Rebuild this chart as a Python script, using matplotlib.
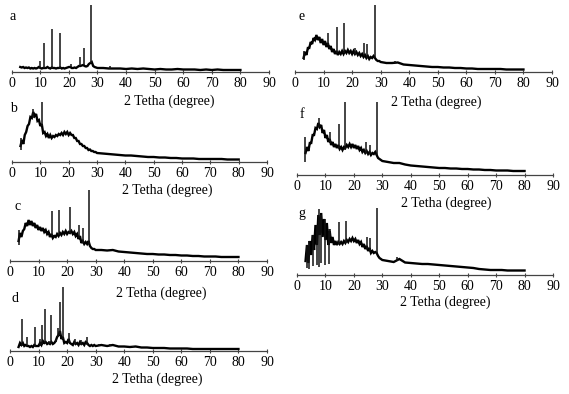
import numpy as np
import matplotlib
matplotlib.use('Agg')
import matplotlib.pyplot as plt

# tamaño de la figura en pixeles
W, H = 569, 394

# posiciones 2 theta del barrido (paso 0.5 hasta 30, luego paso 2)
two_theta = np.concatenate([np.arange(3, 30.5, 0.5), np.arange(32, 81, 2)])

# intensidades (unidades arbitrarias)
intens_a = [5, 4.5, 5, 4, 4.5, 4, 4.5, 3.5, 4, 3.5,
            4, 3.5, 4, 5, 4, 3.5, 4, 4, 4, 5,
            4, 3.5, 4.5, 4, 4, 3.5, 4, 4, 4.5, 3.5,
            4, 3.5, 4, 4.5, 5, 5, 4, 4, 4.5, 4,
            5, 6, 6, 6.5, 7, 6, 5.5, 6, 8, 9,
            10, 6, 5, 4.5, 4,
            4, 3.5, 3.5, 3.5, 3, 3.5, 3, 3.5, 3, 2.5, 3, 2.5, 2.5,
            3, 2.5, 2.5, 2.5, 2, 2.5, 2, 2.5, 2, 2, 2, 2]
intens_b = [16, 22, 18, 27, 30, 36, 38, 45, 44, 50,
            46, 48, 41, 42, 36, 38, 29, 30, 26, 28,
            24, 27, 24, 26, 25, 27, 26, 28, 27, 29,
            27, 30, 28, 30, 27, 29, 27, 27, 24, 24,
            21, 21, 18, 18, 16, 16, 14, 14, 12, 12.5,
            11, 11, 10, 10, 9,
            8.5, 8, 7.5, 7, 6.5, 6.5, 6, 5.5, 5, 5, 4.5, 4.5, 4,
            4, 3.5, 3.5, 3.5, 3, 3, 3, 3, 3, 2.5, 2.5, 2.5]
intens_c = [20, 28, 24, 30, 32, 38, 35, 41, 36, 40,
            35, 38, 33, 36, 31, 34, 30, 33, 29, 31,
            27, 29, 24, 27, 23, 25, 24, 27, 25, 28,
            26, 29, 27, 30, 27, 29, 28, 30, 27, 29,
            25, 27, 22, 25, 18, 20, 17, 19, 17, 20,
            15, 13, 12, 12, 11,
            11, 10.5, 11, 9.5, 9, 8.5, 8, 7.5, 7, 7, 6.5, 6.5, 6,
            6, 5.5, 5.5, 5, 5, 4.5, 4.5, 4.5, 4, 4, 4, 4]
intens_d = [4, 8, 6, 8, 5, 6, 5, 5, 4, 5,
            4, 6, 5, 5, 5, 8, 6, 10, 8, 9,
            7, 8, 7, 9, 7, 8, 10, 14, 16, 20,
            12, 14, 8, 9, 8, 12, 8, 7, 6, 9,
            7, 8, 6, 9, 7, 8, 6, 9, 8, 6,
            5, 6, 5, 6, 5,
            6, 5, 6, 4.5, 4.5, 4, 4.5, 3.5, 3.5, 3, 3, 3, 2.5,
            2.5, 2.5, 2.5, 2, 2, 2, 2, 2, 2, 2, 2, 2]
intens_e = [14, 20, 17, 24, 24, 30, 28, 34, 32, 37,
            32, 35, 29, 33, 27, 31, 25, 29, 23, 26,
            20, 23, 18, 21, 17, 20, 18, 21, 18, 21,
            19, 22, 19, 21, 18, 21, 18, 20, 17, 19,
            16, 18, 15, 17, 14, 16, 13, 15, 14, 16,
            14, 12, 11, 11, 10,
            9, 9, 9.5, 7.5, 7, 6.5, 6, 5.5, 5, 5, 4.5, 4.5, 4,
            4, 3.5, 3.5, 3, 3, 3, 3, 3, 2.5, 2.5, 2.5, 2.5]
intens_f = [22, 28, 24, 32, 32, 40, 40, 47, 46, 52,
            48, 50, 42, 45, 37, 40, 33, 36, 30, 33,
            28, 31, 27, 30, 26, 28, 25, 28, 27, 30,
            28, 31, 28, 31, 27, 30, 26, 29, 25, 27,
            23, 25, 22, 24, 21, 23, 20, 22, 21, 23,
            20, 17, 16, 15, 14,
            13, 12, 12, 10.5, 9.5, 9, 8.5, 8, 7.5, 7, 7, 6.5, 6.5,
            6, 6, 5.5, 5.5, 5, 5, 4.5, 4.5, 4.5, 4, 4, 4]
intens_g = [14, 30, 12, 34, 20, 40, 25, 50, 30, 60,
            40, 62, 38, 56, 35, 52, 30, 44, 32, 38,
            30, 34, 30, 33, 31, 33, 31, 34, 32, 35,
            33, 36, 34, 37, 34, 36, 32, 35, 31, 33,
            28, 31, 26, 29, 24, 27, 22, 24, 22, 23,
            22, 19, 17, 16, 15,
            14, 13, 16, 12.5, 12, 11.5, 11, 11, 10.5, 10, 9.5, 9, 8.5,
            8, 7.5, 7, 6, 5.5, 5, 5, 5, 4.5, 4.5, 4.5, 4.5]

# picos agudos: posicion, base y maximo
peak_pos_a = [9.9, 11.4, 14.2, 16.8, 20.7, 23.8, 25.2, 27.6, 34.5]
peak_base_a = [4, 4, 4, 4, 5, 6, 7, 9, 3.5]
peak_top_a = [11, 29, 43, 39, 8, 15, 24, 67, 6]

peak_pos_b = [3.1, 7.4, 10.6]
peak_base_b = [12, 44, 36]
peak_top_b = [24, 53, 60]

peak_pos_c = [3.1, 14.6, 17.2, 21.0, 24.2, 25.5, 27.8]
peak_base_c = [16, 25, 26, 28, 23, 18, 17]
peak_top_c = [31, 50, 51, 54, 36, 33, 71]

peak_pos_d = [4.3, 6.1, 8.6, 10.5, 11.3, 12.4, 13.8, 14.5, 16.1, 16.9,
              17.5, 18.7, 20.6, 22.8, 24.8, 27.1, 31.3, 35.0, 43.0]
peak_base_d = [5, 5, 4, 5, 6, 8, 7, 7, 9, 14, 16, 12, 8, 7, 6, 6, 5, 5, 4]
peak_top_d = [32, 14, 24, 12, 26, 42, 10, 36, 12, 23, 49, 64, 18, 12, 11, 14, 7, 7, 5]

peak_pos_e = [3.0, 11.7, 14.6, 17.2, 21.0, 24.2, 25.3, 27.9, 35.0]
peak_base_e = [12, 27, 19, 19, 18, 16, 14, 14, 9]
peak_top_e = [21, 39, 45, 49, 24, 29, 28, 67, 11]

peak_pos_f = [2.7, 7.6, 11.7, 14.6, 16.9, 24.3, 25.5, 28.0]
peak_base_f = [13, 48, 32, 27, 25, 22, 21, 20]
peak_top_f = [38, 57, 43, 51, 73, 33, 30, 73]

peak_pos_g = [3.5, 4.3, 5.5, 6.9, 7.8, 8.6, 9.7, 11.1, 11.6, 14.9,
              17.2, 24.5, 25.7, 28.2, 35.0]
peak_base_g = [7, 6, 9, 10, 8, 12, 10, 11, 38, 31, 32, 26, 24, 22, 14]
peak_top_g = [30, 34, 40, 50, 66, 60, 56, 46, 46, 53, 54, 38, 37, 67, 18]

x_ticks = [0, 10, 20, 30, 40, 50, 60, 70, 80, 90]
x_label = '2 Tetha (degree)'

FONT = 'Liberation Serif'


def add_panel(fig, x0, x90, y_axis, h, intens, pos, base, top, letter, letter_xy, label_xy):
    # ejes en pixeles: x0 -> 0 grados, x90 -> 90 grados, y_axis = linea del eje
    ax = fig.add_axes([x0 / W, 1 - y_axis / H, (x90 - x0) / W, h / H])
    ax.set_xlim(0, 90)
    ax.set_ylim(0, h)
    ax.plot(two_theta, intens, color='black', lw=1.7, solid_joinstyle='miter')
    ax.vlines(pos, base, top, color='#111111', lw=1.1)
    for side in ['top', 'right', 'left']:
        ax.spines[side].set_visible(False)
    ax.spines['bottom'].set_color('#444444')
    ax.spines['bottom'].set_linewidth(0.9)
    ax.set_yticks([])
    ax.set_xticks(x_ticks)
    ax.tick_params(axis='x', direction='inout', length=3, width=0.8, pad=2,
                   labelsize=10, color='#444444')
    for t in ax.get_xticklabels():
        t.set_fontfamily(FONT)
    ax.patch.set_alpha(0)
    fig.text(letter_xy[0] / W, 1 - letter_xy[1] / H, letter, ha='center', va='center',
             fontsize=10, family=FONT)
    fig.text(label_xy[0] / W, 1 - label_xy[1] / H, x_label, ha='center', va='center',
             fontsize=10, family=FONT)
    return ax


if __name__ == '__main__':
    fig = plt.figure(figsize=(W / 100, H / 100), dpi=100)

    add_panel(fig, 11.7, 269, 72, 72, intens_a, peak_pos_a, peak_base_a, peak_top_a,
              'a', (13, 17), (169, 101))
    add_panel(fig, 12, 267, 162, 70, intens_b, peak_pos_b, peak_base_b, peak_top_b,
              'b', (13, 108), (167, 190))
    add_panel(fig, 10, 267, 261, 75, intens_c, peak_pos_c, peak_base_c, peak_top_c,
              'c', (18, 206), (161, 293))
    add_panel(fig, 10, 267, 351, 70, intens_d, peak_pos_d, peak_base_d, peak_top_d,
              'd', (15, 298), (157, 379))
    add_panel(fig, 295, 552, 72, 72, intens_e, peak_pos_e, peak_base_e, peak_top_e,
              'e', (302, 17), (436, 102))
    add_panel(fig, 297, 553, 175, 78, intens_f, peak_pos_f, peak_base_f, peak_top_f,
              'f', (302, 115), (446, 203))
    add_panel(fig, 297, 553, 275, 70, intens_g, peak_pos_g, peak_base_g, peak_top_g,
              'g', (302, 213), (445, 302))

    fig.savefig('out.png', dpi=100)
